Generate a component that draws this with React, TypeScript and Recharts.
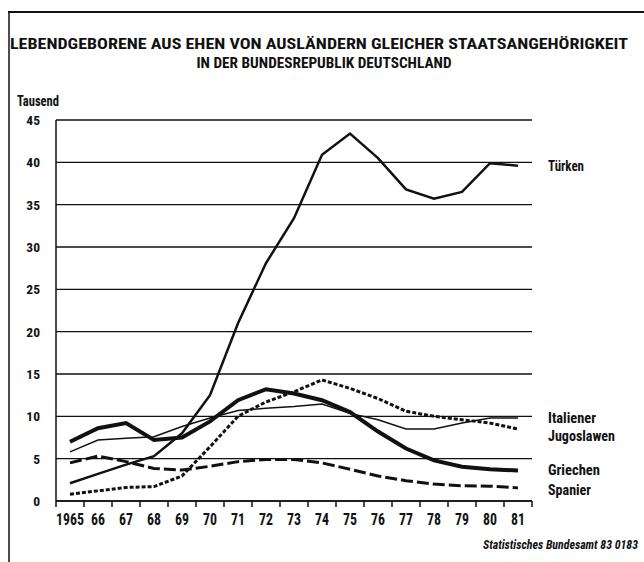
import React from 'react';
import { LineChart, Line, XAxis, YAxis, CartesianGrid } from 'recharts';

const years = ['1965', '66', '67', '68', '69', '70', '71', '72', '73', '74', '75', '76', '77', '78', '79', '80', '81'];
const tuerken = [2.1, 3.2, 4.3, 5.3, 8.0, 12.5, 21.0, 28.1, 33.4, 40.9, 43.4, 40.5, 36.8, 35.7, 36.5, 39.9, 39.6];
const italiener = [5.8, 7.2, 7.4, 7.6, 8.8, 9.8, 10.7, 10.95, 11.15, 11.45, 10.35, 9.6, 8.5, 8.5, 9.2, 9.8, 9.8];
const griechen = [7.0, 8.6, 9.2, 7.2, 7.5, 9.4, 11.9, 13.2, 12.7, 11.9, 10.5, 8.2, 6.2, 4.8, 4.05, 3.75, 3.6];
const jugoslawen = [0.8, 1.2, 1.6, 1.7, 2.95, 6.4, 10.0, 11.7, 12.9, 14.3, 13.3, 12.1, 10.6, 10.0, 9.6, 9.2, 8.5];
const spanier = [4.5, 5.3, 4.65, 3.85, 3.65, 4.1, 4.65, 4.9, 4.9, 4.5, 3.75, 2.95, 2.4, 2.0, 1.8, 1.75, 1.55];
const yTicks = [0, 5, 10, 15, 20, 25, 30, 35, 40, 45];

const data = years.map((y, i) => ({
  year: y,
  tuerken: tuerken[i],
  italiener: italiener[i],
  griechen: griechen[i],
  jugoslawen: jugoslawen[i],
  spanier: spanier[i],
}));

const FONT = "'Roboto Condensed', Roboto, 'DejaVu Sans Condensed', sans-serif";
const INK = '#111';
const txtStyle = { fontStretch: 'condensed' as const };

const XTick = (props: any) => {
  const { x, y, payload, index } = props;
  const half = 14;
  const last = index === years.length - 1;
  const label = String(payload.value);
  return (
    <g>
      <line x1={x - half} y1={y} x2={x - half} y2={y + 6} stroke={INK} strokeWidth={1.5} />
      {last && <line x1={x + half} y1={y} x2={x + half} y2={y + 6} stroke={INK} strokeWidth={1.5} />}
      <text
        x={x}
        y={y + 24}
        textAnchor="middle"
        fontFamily={FONT}
        fontWeight="bold"
        fontSize={16.5}
        fill={INK}
        style={txtStyle}
        textLength={label.length * 7}
        lengthAdjust="spacingAndGlyphs"
      >
        {label}
      </text>
    </g>
  );
};

const YTick = (props: any) => {
  const { x, y, payload } = props;
  return (
    <text x={x} y={y + 5} textAnchor="end" fontFamily={FONT} fontWeight="bold" fontSize={13.5} fill={INK} style={txtStyle}>
      {payload.value}
    </text>
  );
};

export default function App() {
  return (
    <div style={{ position: 'absolute', left: 0, top: 0, width: 644, height: 562, background: '#fff' }}>
      <LineChart
        width={644}
        height={562}
        data={data}
        margin={{ top: 120, left: 16, right: 112, bottom: 0 }}
      >
        <CartesianGrid vertical={false} stroke={INK} strokeWidth={1.3} />
        <XAxis
          dataKey="year"
          padding={{ left: 14, right: 14 }}
          axisLine={{ stroke: INK, strokeWidth: 1.5 }}
          tickLine={false}
          tickSize={0}
          tickMargin={0}
          interval={0}
          height={61}
          tick={<XTick />}
        />
        <YAxis
          domain={[0, 45]}
          ticks={yTicks}
          width={40}
          axisLine={{ stroke: INK, strokeWidth: 1.5 }}
          tickLine={false}
          tickSize={0}
          tickMargin={16}
          interval={0}
          tick={<YTick />}
        />
        <YAxis
          yAxisId="r"
          orientation="right"
          domain={[0, 45]}
          ticks={yTicks}
          width={0}
          axisLine={{ stroke: INK, strokeWidth: 1.5 }}
          tickLine={false}
          tick={false}
        />
        <Line dataKey="italiener" type="linear" stroke={INK} strokeWidth={1.5} dot={false} isAnimationActive={false} />
        <Line dataKey="spanier" type="linear" stroke={INK} strokeWidth={3} strokeDasharray="12 4" dot={false} isAnimationActive={false} />
        <Line dataKey="jugoslawen" type="linear" stroke={INK} strokeWidth={3} strokeDasharray="4 2" dot={false} isAnimationActive={false} />
        <Line dataKey="griechen" type="linear" stroke={INK} strokeWidth={4} dot={false} isAnimationActive={false} />
        <Line dataKey="tuerken" type="linear" stroke={INK} strokeWidth={2.5} dot={false} isAnimationActive={false} />
      </LineChart>
      <svg width={644} height={562} style={{ position: 'absolute', left: 0, top: 0, pointerEvents: 'none' }}>
        <line x1={8} y1={12} x2={644} y2={12} stroke={INK} strokeWidth={2} />
        <line x1={9} y1={12} x2={9} y2={562} stroke={INK} strokeWidth={1.5} />
        <g fontFamily={FONT} fontWeight="bold" fill={INK} style={txtStyle}>
          <text x={319} y={49} textAnchor="middle" fontSize={15.5} textLength={618} lengthAdjust="spacingAndGlyphs">
            LEBENDGEBORENE AUS EHEN VON AUSLÄNDERN GLEICHER STAATSANGEHÖRIGKEIT
          </text>
          <text x={324} y={68} textAnchor="middle" fontSize={15.5} textLength={255} lengthAdjust="spacingAndGlyphs">
            IN DER BUNDESREPUBLIK DEUTSCHLAND
          </text>
          <text x={17} y={106} fontSize={14} textLength={42} lengthAdjust="spacingAndGlyphs">Tausend</text>
          <text x={548} y={171} fontSize={15} textLength={36} lengthAdjust="spacingAndGlyphs">Türken</text>
          <text x={548} y={423} fontSize={15} textLength={48} lengthAdjust="spacingAndGlyphs">Italiener</text>
          <text x={548} y={441} fontSize={15} textLength={67} lengthAdjust="spacingAndGlyphs">Jugoslawen</text>
          <text x={548} y={475} fontSize={15} textLength={52} lengthAdjust="spacingAndGlyphs">Griechen</text>
          <text x={548} y={495} fontSize={15} textLength={43} lengthAdjust="spacingAndGlyphs">Spanier</text>
          <text x={483} y={549} fontSize={12} fontStyle="italic" textLength={155} lengthAdjust="spacingAndGlyphs">Statistisches Bundesamt 83 0183</text>
        </g>
      </svg>
    </div>
  );
}
